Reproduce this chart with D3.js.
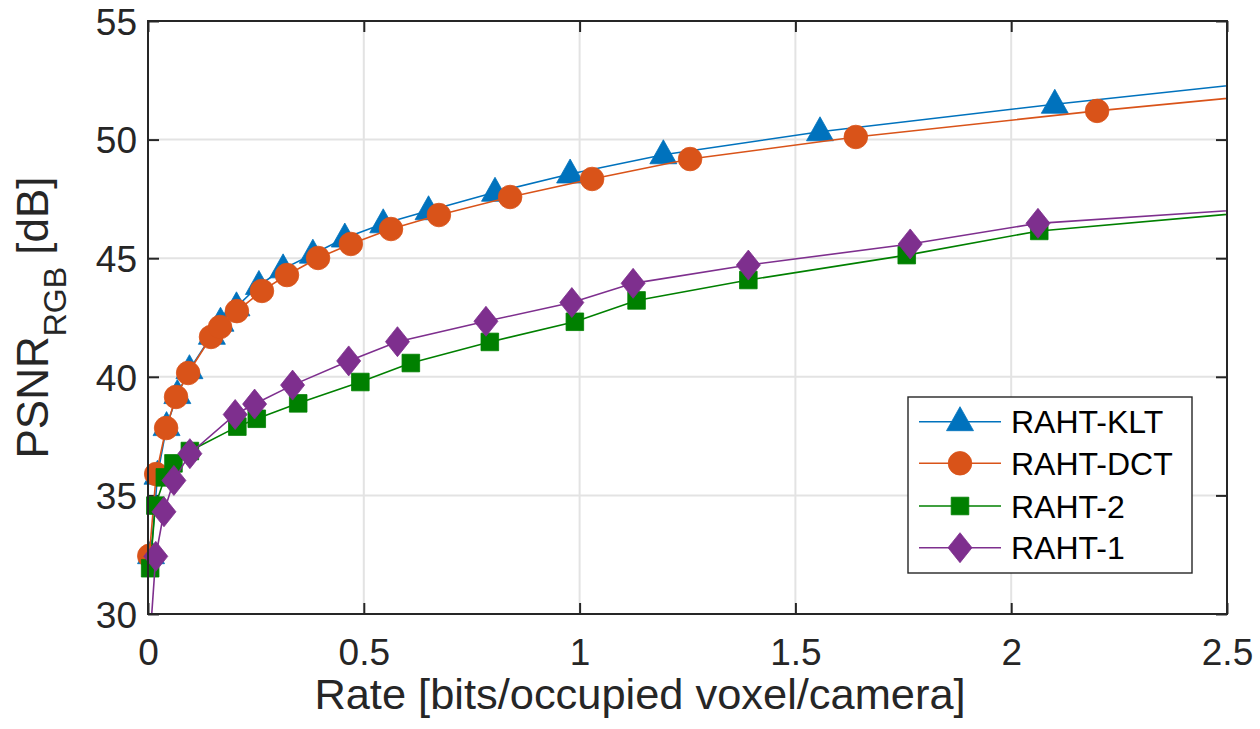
<!DOCTYPE html>
<html>
<head>
<meta charset="utf-8">
<script src="https://cdn.jsdelivr.net/npm/d3@7"></script>
<style>
  html, body { margin: 0; padding: 0; background: #fff; }
  svg { display: block; font-family: "Liberation Sans", Arial, Helvetica, sans-serif; }
</style>
</head>
<body>
<svg id="chart" width="1260" height="729"></svg>
<script>
// ---- data ----
const seriesNames = ["RAHT-KLT", "RAHT-DCT", "RAHT-2", "RAHT-1"];

const rateKLT = [0.007, 0.022, 0.043, 0.068, 0.096, 0.148, 0.168, 0.205, 0.257, 0.313, 0.382, 0.456, 0.545, 0.650, 0.804, 0.978, 1.194, 1.557, 2.101, 2.9];
const psnrKLT = [32.5, 35.85, 37.9, 39.25, 40.3, 41.75, 42.3, 42.95, 43.85, 44.55, 45.17, 45.85, 46.45, 47.0, 47.78, 48.55, 49.36, 50.33, 51.49, 53.05];

const rateDCT = [0.003, 0.019, 0.042, 0.065, 0.093, 0.146, 0.167, 0.206, 0.264, 0.322, 0.394, 0.470, 0.563, 0.674, 0.839, 1.029, 1.256, 1.640, 2.199, 2.9];
const psnrDCT = [32.45, 35.9, 37.84, 39.15, 40.16, 41.68, 42.1, 42.77, 43.62, 44.29, 45.01, 45.6, 46.23, 46.82, 47.58, 48.34, 49.18, 50.11, 51.21, 52.44];

const rate2 = [0.005, 0.017, 0.039, 0.059, 0.097, 0.207, 0.252, 0.348, 0.492, 0.609, 0.792, 0.989, 1.132, 1.391, 1.758, 2.065, 2.9];
const psnr2 = [31.93, 34.57, 35.76, 36.35, 36.87, 37.9, 38.23, 38.88, 39.78, 40.58, 41.47, 42.32, 43.22, 44.08, 45.13, 46.15, 47.49];

const rate1 = [0.001, 0.018, 0.037, 0.060, 0.097, 0.202, 0.247, 0.335, 0.465, 0.578, 0.783, 0.982, 1.124, 1.391, 1.766, 2.062, 2.9];
const psnr1 = [28.0, 32.43, 34.31, 35.63, 36.76, 38.41, 38.85, 39.65, 40.67, 41.48, 42.34, 43.13, 43.94, 44.71, 45.6, 46.47, 47.48];

const xTicks = [0, 0.5, 1, 1.5, 2, 2.5];
const xTickLabels = ["0", "0.5", "1", "1.5", "2", "2.5"];
const yTicks = [30, 35, 40, 45, 50, 55];
const yTickLabels = ["30", "35", "40", "45", "50", "55"];

const xLabel = "Rate [bits/occupied voxel/camera]";
const yLabelMain = "PSNR", yLabelSub = "RGB", yLabelUnit = " [dB]";

// ---- layout / style ----
const plot = { left: 148, right: 1227, top: 21, bottom: 614 };
const colors = ["#0072BD", "#D95319", "#008000", "#7E2F8E"];
const markers = ["triangle", "circle", "square", "diamond"];
const ink = "#262626";

const svg = d3.select("#chart");
const x = d3.scaleLinear().domain([0, 2.5]).range([plot.left, plot.right]);
const y = d3.scaleLinear().domain([30, 55]).range([plot.bottom, plot.top]);

svg.append("rect").attr("width", 1260).attr("height", 729).attr("fill", "#fff");

// grid
const grid = svg.append("g");
grid.selectAll("line.gx").data(xTicks.slice(1, -1)).enter().append("line")
  .attr("x1", d => x(d)).attr("x2", d => x(d))
  .attr("y1", plot.top).attr("y2", plot.bottom)
  .attr("stroke", "#e3e3e3").attr("stroke-width", 2);
grid.selectAll("line.gy").data(yTicks.slice(1, -1)).enter().append("line")
  .attr("y1", d => y(d)).attr("y2", d => y(d))
  .attr("x1", plot.left).attr("x2", plot.right)
  .attr("stroke", "#e3e3e3").attr("stroke-width", 2);

// axes with inner ticks
const tickLen = 11;
const axBottom = d3.axisBottom(x).tickValues(xTicks).tickSizeInner(-tickLen).tickSizeOuter(0).tickFormat((d, i) => xTickLabels[i]);
const axTop = d3.axisTop(x).tickValues(xTicks).tickSizeInner(-tickLen).tickSizeOuter(0).tickFormat("");
const axLeft = d3.axisLeft(y).tickValues(yTicks).tickSizeInner(-tickLen).tickSizeOuter(0).tickFormat((d, i) => yTickLabels[i]);
const axRight = d3.axisRight(y).tickValues(yTicks).tickSizeInner(-tickLen).tickSizeOuter(0).tickFormat("");

function styleAxis(g) {
  g.select(".domain").remove();
  g.selectAll(".tick line").attr("stroke", ink).attr("stroke-width", 2);
  g.selectAll(".tick text").attr("fill", ink).attr("font-size", 37)
   .attr("font-family", '"Liberation Sans", Arial, sans-serif');
}
const gB = svg.append("g").attr("transform", `translate(0,${plot.bottom})`).call(axBottom).call(styleAxis);
gB.selectAll(".tick text").attr("y", 51).attr("dy", 0);
const gT = svg.append("g").attr("transform", `translate(0,${plot.top})`).call(axTop).call(styleAxis);
const gL = svg.append("g").attr("transform", `translate(${plot.left},0)`).call(axLeft).call(styleAxis);
gL.selectAll(".tick text").attr("x", -11).attr("dy", "0.36em");
const gR = svg.append("g").attr("transform", `translate(${plot.right},0)`).call(axRight).call(styleAxis);

// clip for lines
svg.append("clipPath").attr("id", "clip").append("rect")
  .attr("x", plot.left).attr("y", plot.top)
  .attr("width", plot.right - plot.left).attr("height", plot.bottom - plot.top);

function markerPath(type) {
  switch (type) {
    case "triangle": return "M0,-15L13.5,9L-13.5,9Z";
    case "circle": return d3.symbol().type(d3.symbolCircle).size(Math.PI * 11.8 * 11.8)();
    case "square": return "M-8.8,-8.8H8.8V8.8H-8.8Z";
    case "diamond": return "M0,-15L12,0L0,15L-12,0Z";
  }
}

const seriesData = [
  rateKLT.map((r, i) => [r, psnrKLT[i]]),
  rateDCT.map((r, i) => [r, psnrDCT[i]]),
  rate2.map((r, i) => [r, psnr2[i]]),
  rate1.map((r, i) => [r, psnr1[i]])
];

const line = d3.line().x(d => x(d[0])).y(d => y(d[1]));
const inDomain = d => d[0] >= 0 && d[0] <= 2.5 && d[1] >= 30 && d[1] <= 55;

seriesData.forEach((pts, k) => {
  const g = svg.append("g");
  g.append("path").attr("d", line(pts)).attr("fill", "none")
    .attr("stroke", colors[k]).attr("stroke-width", 1.6)
    .attr("clip-path", "url(#clip)");
  g.selectAll("path.m").data(pts.filter(inDomain)).enter().append("path")
    .attr("class", "m")
    .attr("d", markerPath(markers[k]))
    .attr("transform", d => `translate(${x(d[0])},${y(d[1])})`)
    .attr("fill", colors[k]).attr("stroke", colors[k]).attr("stroke-width", 0.8);
});

// frame
svg.append("rect").attr("x", plot.left).attr("y", plot.top)
  .attr("width", plot.right - plot.left).attr("height", plot.bottom - plot.top)
  .attr("fill", "none").attr("stroke", ink).attr("stroke-width", 2);

// axis labels
svg.append("text").attr("x", 640).attr("y", 709).attr("text-anchor", "middle")
  .attr("font-size", 43.4).attr("fill", ink).text(xLabel);

const yl = svg.append("text").attr("transform", `translate(48,${(plot.top + plot.bottom) / 2}) rotate(-90)`)
  .attr("text-anchor", "middle").attr("fill", ink).attr("font-size", 44);
yl.append("tspan").text(yLabelMain);
yl.append("tspan").attr("font-size", 32).attr("dy", 18).text(yLabelSub);
yl.append("tspan").attr("dy", -18).text(yLabelUnit);

// legend
const leg = { x: 908, y: 397, w: 284, h: 176 };
const lg = svg.append("g");
lg.append("rect").attr("x", leg.x).attr("y", leg.y).attr("width", leg.w).attr("height", leg.h)
  .attr("fill", "#fff").attr("stroke", ink).attr("stroke-width", 1.4);
const rowY = [421.7, 463.3, 506, 547.7];
seriesNames.forEach((name, k) => {
  const ry = rowY[k];
  lg.append("line").attr("x1", 919).attr("x2", 1001).attr("y1", ry).attr("y2", ry)
    .attr("stroke", colors[k]).attr("stroke-width", 1.6);
  lg.append("path").attr("d", markerPath(markers[k]))
    .attr("transform", `translate(960,${ry})`)
    .attr("fill", colors[k]).attr("stroke", colors[k]).attr("stroke-width", 0.8);
  lg.append("text").attr("x", 1011).attr("y", ry + 11.5)
    .attr("font-size", 32).attr("fill", "#000").text(name);
});
</script>
</body>
</html>
